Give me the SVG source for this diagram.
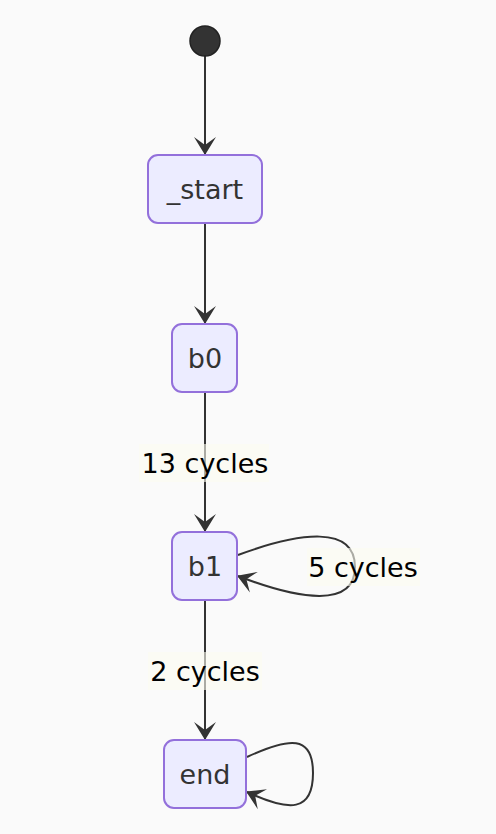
<svg xmlns="http://www.w3.org/2000/svg" width="496" height="834" viewBox="0 0 496 834">
<style>
.node rect{fill:#ECECFF;stroke:#9370DB;stroke-width:2}
.node text{font-family:"DejaVu Sans","Noto Sans",sans-serif;font-size:27px;fill:#333;text-anchor:middle;dominant-baseline:central}
.edge{fill:none;stroke:#333;stroke-width:2}
.lbl rect{fill:#fcfcf0;fill-opacity:0.6}
.lbl text{font-family:"DejaVu Sans","Noto Sans",sans-serif;font-size:27px;fill:#000;text-anchor:middle;dominant-baseline:central}
</style>
<defs>
<marker id="arr" viewBox="0 0 18 24" refX="17" refY="12" markerWidth="18" markerHeight="24" markerUnits="userSpaceOnUse" orient="auto">
<path d="M0,1 L18,12 L0,23 L8,12 z" fill="#333"/>
</marker>
</defs>
<rect width="496" height="834" fill="#fafafa"/>
<g id="connectors">
<path class="edge" d="M205,55 L205,154" marker-end="url(#arr)"/>
<path class="edge" d="M205,223 L205,323" marker-end="url(#arr)"/>
<path class="edge" d="M205,392 L205,531" marker-end="url(#arr)"/>
<path class="edge" d="M205,600 L205,739" marker-end="url(#arr)"/>
<path class="edge" d="M238,555 C300,532 355,525 355,567 C355,608 300,600 238,576" marker-end="url(#arr)"/>
<path class="edge" d="M247,757 C290,737 313,735 313,773 C313,812 290,812 247,792" marker-end="url(#arr)"/>
<g class="lbl"><rect x="139" y="444" width="130" height="38"/><text x="205" y="463">13 cycles</text></g>
<g class="lbl"><rect x="307" y="548" width="113" height="38"/><text x="363" y="567">5 cycles</text></g>
<g class="lbl"><rect x="148" y="652" width="114" height="38"/><text x="205" y="671">2 cycles</text></g>
</g>
<g id="start"><circle cx="205" cy="41" r="15" fill="#333" stroke="#222" stroke-width="1.5"/></g>
<g id="n_start" class="node"><rect x="148" y="155" width="114" height="68" rx="10"/><text x="205" y="189">_start</text></g>
<g id="b0" class="node"><rect x="172" y="324" width="65" height="68" rx="10"/><text x="205" y="358">b0</text></g>
<g id="b1" class="node"><rect x="172" y="532" width="65" height="68" rx="10"/><text x="205" y="566">b1</text></g>
<g id="end" class="node"><rect x="164" y="740" width="82" height="68" rx="10"/><text x="205" y="774">end</text></g>
</svg>
